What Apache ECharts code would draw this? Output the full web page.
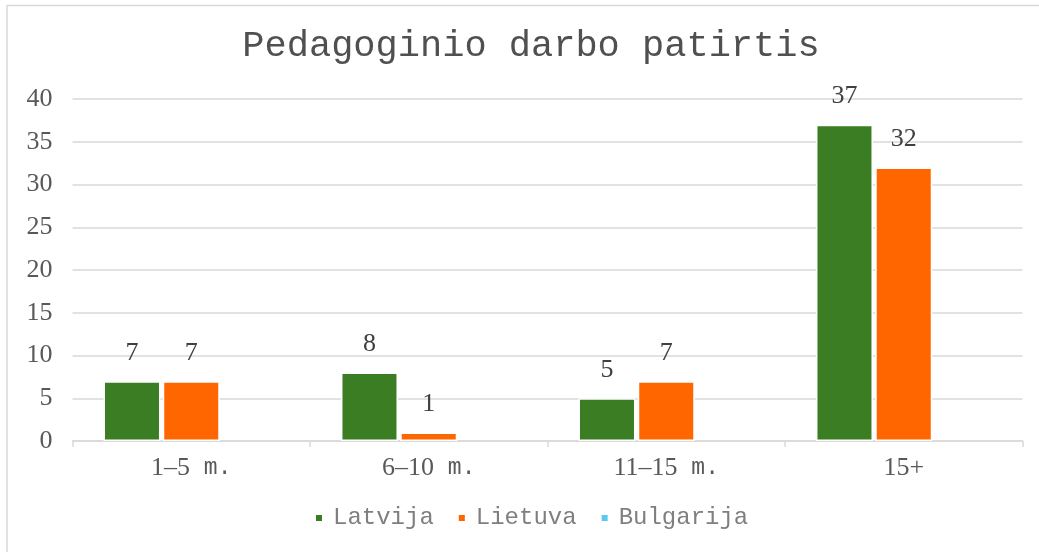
<!DOCTYPE html>
<html>
<head>
<meta charset="utf-8">
<script src="https://cdn.jsdelivr.net/npm/echarts@6/dist/echarts.min.js"></script>
<style>
  html, body { margin: 0; padding: 0; background: #fff; }
  #chart { width: 1039px; height: 552px; }
</style>
</head>
<body>
<div id="chart"></div>
<script>
// duomenys
var categories = ['1–5 m.', '6–10 m.', '11–15 m.', '15+'];
var latvija = [7, 8, 5, 37];
var lietuva = [7, 1, 7, 32];
var bulgarija = [null, null, null, null];
var yTicks = [0, 5, 10, 15, 20, 25, 30, 35, 40];

var serif = '"Liberation Serif", "DejaVu Serif", serif';
var mono = '"Liberation Mono", "DejaVu Sans Mono", monospace';

var chart = echarts.init(document.getElementById('chart'));

// kategorijos: skaiciai serif, "m." mono
function catLabel(v) {
  var m = v.match(/^(.*?)( m\.)?$/);
  var s = '{n|' + m[1] + '}';
  if (m[2]) s += '{m|' + m[2] + '}';
  return s;
}

function barSeries(name, data, color) {
  return {
    name: name,
    type: 'bar',
    data: data,
    barWidth: 57,
    barGap: '4%',
    itemStyle: { color: color, borderColor: '#fff', borderWidth: 1.5 },
    label: {
      show: true,
      position: 'top',
      distance: 15,
      color: '#404040',
      fontFamily: serif,
      fontSize: 26
    }
  };
}

var option = {
  backgroundColor: '#fff',
  animation: false,
  title: {
    text: 'Pedagoginio darbo patirtis',
    left: 526,
    textAlign: 'center',
    top: 23,
    textStyle: { fontFamily: mono, fontSize: 37, fontWeight: 'normal', color: '#505050' }
  },
  legend: {
    bottom: 17,
    left: 309,
    itemWidth: 8,
    itemHeight: 8,
    itemGap: 23,
    icon: 'rect',
    textStyle: { fontFamily: mono, fontSize: 24, color: '#7f7f7f', padding: [0, 0, 0, 5] },
    data: ['Latvija', 'Lietuva', 'Bulgarija']
  },
  grid: { left: 72.5, right: 16.5, top: 99, bottom: 111, containLabel: false },
  xAxis: {
    type: 'category',
    data: categories,
    axisLine: { lineStyle: { color: '#d9d9d9', width: 1.5 } },
    axisTick: { show: true, length: 6, lineStyle: { color: '#d9d9d9', width: 1.5 } },
    axisLabel: {
      margin: 14,
      formatter: catLabel,
      rich: {
        n: { fontFamily: serif, fontSize: 26, color: '#595959' },
        m: { fontFamily: mono, fontSize: 23, color: '#595959' }
      }
    }
  },
  yAxis: {
    type: 'value',
    min: yTicks[0],
    max: yTicks[yTicks.length - 1],
    interval: 5,
    axisLine: { show: false },
    axisTick: { show: false },
    axisLabel: { margin: 20, fontFamily: serif, fontSize: 26, color: '#595959' },
    splitLine: { lineStyle: { color: '#d9d9d9', width: 1.5 } }
  },
  series: [
    barSeries('Latvija', latvija, '#3a7d22'),
    barSeries('Lietuva', lietuva, '#ff6600'),
    barSeries('Bulgarija', bulgarija, '#5bc8f0')
  ],
  graphic: [{
    type: 'rect',
    shape: { x: 7, y: 5.5, width: 1200, height: 700 },
    style: { fill: 'none', stroke: '#d9d9d9', lineWidth: 1.5 },
    silent: true
  }]
};

chart.setOption(option);
</script>
</body>
</html>
